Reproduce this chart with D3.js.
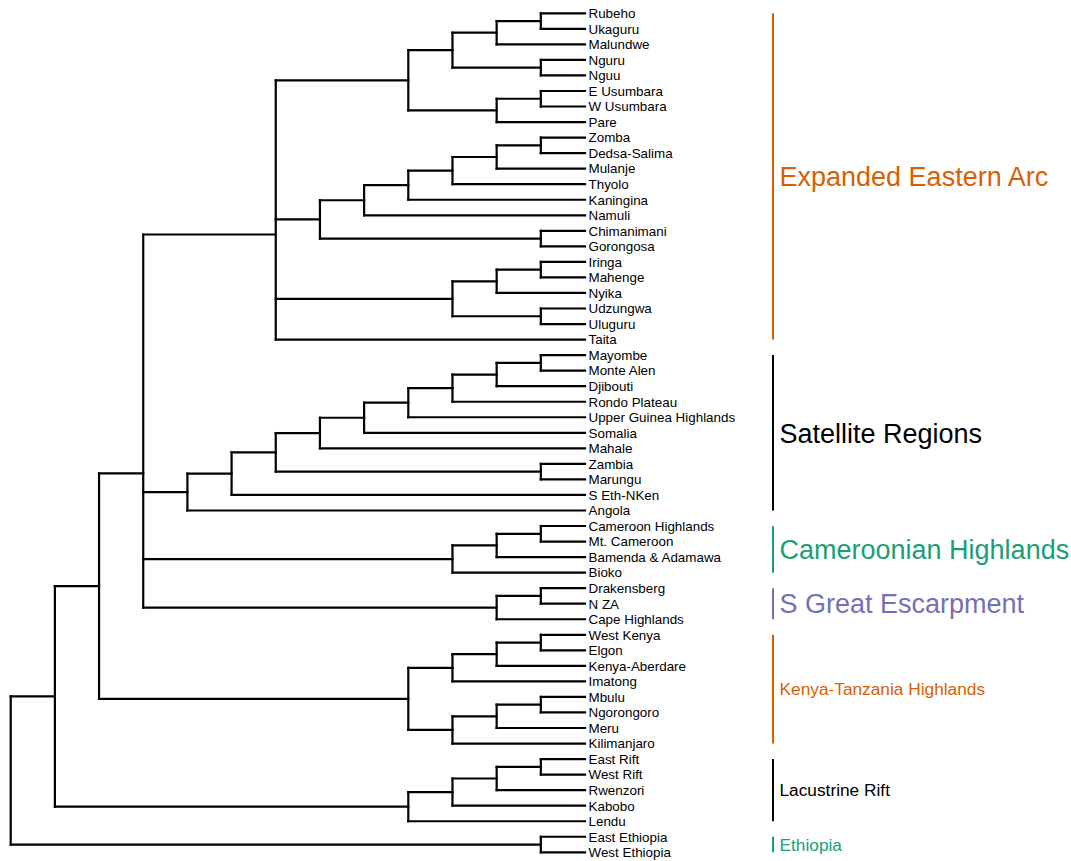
<!DOCTYPE html>
<html lang="en">
<head>
  <meta charset="UTF-8">
  <title>Afromontane regions cladogram</title>
  <script src="https://d3js.org/d3.v7.min.js"></script>
  <style>
    body { margin: 0; background: #fff; font-family: "Liberation Sans", Arial, sans-serif; }
    .branch { fill: none; stroke: #000; stroke-width: 2.2; stroke-linecap: square; }
    .leaf text { font-size: 13.4px; fill: #000; }
  </style>
</head>
<body>
  <svg width="1071" height="861"></svg>

  <script>
    // Tree topology (nested arrays, leaves are region names)
    const eastArc = [
      [[[["Rubeho", "Ukaguru"], "Malundwe"], ["Nguru", "Nguu"]], [["E Usumbara", "W Usumbara"], "Pare"]],
      [[[[[["Zomba", "Dedsa-Salima"], "Mulanje"], "Thyolo"], "Kaningina"], "Namuli"], ["Chimanimani", "Gorongosa"]],
      [[["Iringa", "Mahenge"], "Nyika"], ["Udzungwa", "Uluguru"]],
      "Taita"
    ];
    const satellite = [[[[[[[[["Mayombe", "Monte Alen"], "Djibouti"], "Rondo Plateau"], "Upper Guinea Highlands"],
      "Somalia"], "Mahale"], ["Zambia", "Marungu"]], "S Eth-NKen"], "Angola"];
    const cameroon = [[["Cameroon Highlands", "Mt. Cameroon"], "Bamenda & Adamawa"], "Bioko"];
    const escarpment = [["Drakensberg", "N ZA"], "Cape Highlands"];
    const kenyaTanzania = [[[["West Kenya", "Elgon"], "Kenya-Aberdare"], "Imatong"],
      [[["Mbulu", "Ngorongoro"], "Meru"], "Kilimanjaro"]];
    const lacustrine = [[[["East Rift", "West Rift"], "Rwenzori"], "Kabobo"], "Lendu"];
    const ethiopia = ["East Ethiopia", "West Ethiopia"];

    const tree = [[[[eastArc, satellite, cameroon, escarpment], kenyaTanzania], lacustrine], ethiopia];

    // Clade brackets on the right
    const cladeLabels = ["Expanded Eastern Arc", "Satellite Regions", "Cameroonian Highlands",
      "S Great Escarpment", "Kenya-Tanzania Highlands", "Lacustrine Rift", "Ethiopia"];
    const cladeFirst = ["Rubeho", "Mayombe", "Cameroon Highlands", "Drakensberg", "West Kenya", "East Rift", "East Ethiopia"];
    const cladeLast = ["Taita", "Angola", "Bioko", "Cape Highlands", "Kilimanjaro", "Lendu", "West Ethiopia"];

    // styles for the clades
    const cladeColor = ["#D95F02", "#000000", "#1B9E77", "#7570B3", "#D95F02", "#000000", "#1B9E77"];
    const cladeFont = [27, 27, 27, 27, 17.3, 17.3, 17.3];

    const svg = d3.select("svg");

    const root = d3.hierarchy(tree, d => Array.isArray(d) ? d : null);
    const leaves = root.leaves();

    // cladogram: x from node height, y from leaf order
    const x = d3.scaleLinear().domain([root.height, 0]).range([10.7, 585]);
    const y = d3.scaleLinear().domain([0, leaves.length - 1]).range([13.3, 852.3]);

    leaves.forEach((d, i) => { d.yPos = y(i); });
    root.eachAfter(d => {
      if (d.children) d.yPos = d3.mean(d.children, c => c.yPos);
      d.xPos = x(d.height);
    });

    const g = svg.append("g");

    // vertical connectors
    g.selectAll(".v")
      .data(root.descendants().filter(d => d.children))
      .join("path")
      .attr("class", "branch")
      .attr("d", d => {
        const ys = d.children.map(c => c.yPos);
        return `M${d.xPos},${d3.min(ys)}V${d3.max(ys)}`;
      });

    // horizontal branches
    g.selectAll(".h")
      .data(root.descendants().filter(d => d.parent))
      .join("path")
      .attr("class", "branch")
      .attr("d", d => `M${d.parent.xPos},${d.yPos}H${d.xPos}`);

    // leaf labels
    const leafByName = new Map(leaves.map(d => [d.data, d]));

    svg.append("g").attr("class", "leaf")
      .selectAll("text")
      .data(leaves)
      .join("text")
      .attr("x", d => d.xPos + 3.5)
      .attr("y", d => d.yPos)
      .attr("dy", "0.36em")
      .text(d => d.data);

    // clade bars + labels
    const barX = 773;
    const clades = cladeLabels.map((label, i) => ({
      label,
      y0: leafByName.get(cladeFirst[i]).yPos,
      y1: leafByName.get(cladeLast[i]).yPos,
      color: cladeColor[i],
      size: cladeFont[i]
    }));

    const cg = svg.append("g").selectAll("g").data(clades).join("g");

    cg.append("line")
      .attr("x1", barX).attr("x2", barX)
      .attr("y1", d => d.y0).attr("y2", d => d.y1)
      .attr("stroke", d => d.color)
      .attr("stroke-width", 2);

    cg.append("text")
      .attr("x", barX + 6.5)
      .attr("y", d => (d.y0 + d.y1) / 2)
      .attr("dy", "0.36em")
      .attr("fill", d => d.color)
      .style("font-size", d => d.size + "px")
      .text(d => d.label);
  </script>
</body>
</html>
